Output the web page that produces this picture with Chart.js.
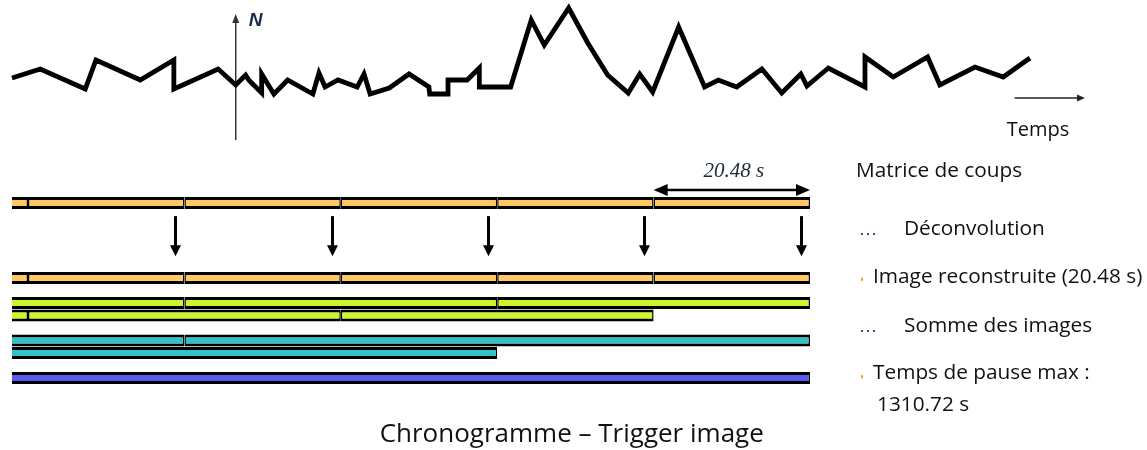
<!DOCTYPE html>
<html>
<head>
<meta charset="utf-8">
<script src="https://cdn.jsdelivr.net/npm/chart.js@4.4.0/dist/chart.umd.min.js"></script>
<style>
  body { margin: 0; background: #fff; }
  #wrap { width: 1147px; height: 450px; }
</style>
</head>
<body>
<div id="wrap"><canvas id="chrono" width="1147" height="450"></canvas></div>
<script>
// signal N en fonction du temps (s)
const signalT = [-2.1, 1.6, 7.5, 8.9, 14.7, 19.1, 19.1, 24.9, 27.2, 28.5, 28.9, 30.6, 30.6, 32.2, 34.0,
  37.3, 38.1, 38.9, 40.6, 43.1, 44.0, 44.8, 47.3, 49.9, 52.5, 52.6, 55.0, 55.0, 57.5, 59.1, 59.1,
  63.2, 65.9, 67.6, 70.8, 73.3, 75.9, 78.6, 80.1, 81.8, 85.2, 88.6, 90.4, 92.8, 96.1, 98.7, 101.2,
  102.0, 104.8, 109.6, 109.6, 113.3, 117.8, 119.4, 124.0, 127.7, 131.2];
const signalN = [62, 71, 51, 80, 60, 80, 51, 71, 55, 65, 60, 47, 66, 46, 60,
  46, 67, 53, 60, 53, 66, 46, 52, 66, 53, 46, 46, 60, 60, 72, 53,
  53, 120, 95, 132, 97, 65, 47, 66, 48, 113, 53, 60, 53, 71, 47, 66,
  54, 72, 53, 83, 63, 83, 55, 73, 63, 82];

// triggers image (s)
const triggers = [0, 20.48, 40.96, 61.44, 81.92, 102.4];
const imageLength = 20.48;
const windowStart = -2.1;

// segments [debut, fin] de chaque ligne
const matriceSegs = [[-2.1, 0], [0, 20.48], [20.48, 40.96], [40.96, 61.44], [61.44, 81.92], [81.92, 102.4]];
const reconSegs = [[-2.1, 0], [0, 20.48], [20.48, 40.96], [40.96, 61.44], [61.44, 81.92], [81.92, 102.4]];
const somme2Haut = [[-2.1, 20.48], [20.48, 61.44], [61.44, 102.4]];
const somme2Bas = [[-2.1, 0], [0, 40.96], [40.96, 81.92]];
const somme4Haut = [[-2.1, 20.48], [20.48, 102.4]];
const somme4Bas = [[-2.1, 61.44]];
const pauseSegs = [[-2.1, 102.4]];

// ordre des lignes du chronogramme
const rowLevel = [0, 6, 8, 9, 11, 12, 14];

const sideLabels = ['Matrice de coups', 'Déconvolution', 'Image reconstruite (20.48 s)',
  'Somme des images', 'Temps de pause max :', '1310.72 s'];
const titleText = 'Chronogramme \u2013 Trigger image';

const orange = '#ffc864', vert = '#ccf52e', cyan = '#30c2c4', bleu = '#5a5af0';

function barSet(label, segs, level, color) {
  return {
    type: 'bar',
    label: label,
    data: segs.map(s => ({ x: s, y: level })),
    indexAxis: 'y',
    xAxisID: 'x',
    yAxisID: 'yRows',
    grouped: false,
    barThickness: 12,
    backgroundColor: color,
    borderColor: '#000',
    borderWidth: c => ({
      top: 3, bottom: 3,
      left: c.raw && c.raw.x[0] <= windowStart ? 0 : 1.5,
      right: 1.5
    }),
    borderSkipped: false,
    inflateAmount: 0,
    order: 2
  };
}

function arrowHead(ctx, x, y, dx, dy, len, half) {
  // pointe en (x,y), direction (dx,dy)
  ctx.beginPath();
  ctx.moveTo(x, y);
  ctx.lineTo(x - dx * len - dy * half, y - dy * len + dx * half);
  ctx.lineTo(x - dx * len + dy * half, y - dy * len - dx * half);
  ctx.closePath();
  ctx.fill();
}

const overlay = {
  id: 'overlay',
  beforeDatasetsDraw(chart) {
    const ctx = chart.ctx;
    const xs = chart.scales.x, ys = chart.scales.y;
    const ax = xs.getPixelForValue(27.2);
    const top = ys.getPixelForValue(126);
    ctx.save();
    ctx.strokeStyle = '#333';
    ctx.fillStyle = '#333';
    ctx.lineWidth = 1.5;
    ctx.beginPath();
    ctx.moveTo(ax, ys.getPixelForValue(0));
    ctx.lineTo(ax, top + 6);
    ctx.stroke();
    arrowHead(ctx, ax, top, 0, -1, 9, 3.5);
    ctx.restore();
  },
  afterDatasetsDraw(chart) {
    const ctx = chart.ctx;
    const xs = chart.scales.x, ys = chart.scales.y, rs = chart.scales.yRows;
    ctx.save();

    // N
    ctx.fillStyle = '#1b2b4b';
    ctx.font = 'italic bold 19px "Liberation Sans"';
    ctx.textBaseline = 'middle';
    ctx.fillText('N', xs.getPixelForValue(27.2) + 13, ys.getPixelForValue(119));

    // axe Temps
    const ty = ys.getPixelForValue(42);
    const t0 = xs.getPixelForValue(129.2), t1 = xs.getPixelForValue(138.4);
    ctx.strokeStyle = '#222';
    ctx.fillStyle = '#222';
    ctx.lineWidth = 1.3;
    ctx.beginPath();
    ctx.moveTo(t0, ty);
    ctx.lineTo(t1 - 6, ty);
    ctx.stroke();
    arrowHead(ctx, t1, ty, 1, 0, 8, 3.5);
    ctx.fillStyle = '#111';
    ctx.font = '20px "Open Sans"';
    ctx.fillText('Temps', t0 - 8, ys.getPixelForValue(10));

    // fleches de deconvolution
    ctx.fillStyle = '#000';
    ctx.strokeStyle = '#000';
    const aTop = rs.getPixelForValue(1.05), aTip = rs.getPixelForValue(4.25);
    triggers.slice(1).forEach(b => {
      const x = Math.round(xs.getPixelForValue(b - 1.2)) + 0.5;
      ctx.lineWidth = 3;
      ctx.beginPath();
      ctx.moveTo(x, aTop);
      ctx.lineTo(x, aTip - 9);
      ctx.stroke();
      arrowHead(ctx, x, aTip, 0, 1, 11, 5.5);
    });

    // double fleche 20.48 s
    const last = triggers[triggers.length - 1];
    const d0 = xs.getPixelForValue(last - imageLength), d1 = xs.getPixelForValue(last);
    const dy = rs.getPixelForValue(-1.05);
    ctx.lineWidth = 2.5;
    ctx.beginPath();
    ctx.moveTo(d0 + 10, dy);
    ctx.lineTo(d1 - 10, dy);
    ctx.stroke();
    arrowHead(ctx, d0, dy, -1, 0, 14, 6);
    arrowHead(ctx, d1, dy, 1, 0, 14, 6);
    ctx.fillStyle = '#1f2a36';
    ctx.font = 'italic 21px "Liberation Serif"';
    ctx.textAlign = 'center';
    ctx.fillText(imageLength.toFixed(2) + ' s', (d0 + d1) / 2 + 2, rs.getPixelForValue(-2.5));

    // legendes a droite
    const lx = xs.getPixelForValue(last) + 46;
    ctx.textAlign = 'left';
    ctx.fillStyle = '#111';
    ctx.font = '20.8px "Open Sans"';
    ctx.fillText(sideLabels[0], lx, rs.getPixelForValue(-2.56));
    ctx.fillText(sideLabels[1], lx + 48, rs.getPixelForValue(2.08));
    ctx.fillText(sideLabels[2], lx + 17, rs.getPixelForValue(5.92));
    ctx.fillText(sideLabels[3], lx + 48, rs.getPixelForValue(9.84));
    ctx.fillText(sideLabels[4], lx + 17, rs.getPixelForValue(13.6));
    ctx.fillText(sideLabels[5], lx + 21, rs.getPixelForValue(16.16));

    // petites puces
    ctx.fillStyle = '#2f5597';
    [2.48, 10.24].forEach(l => {
      const y = rs.getPixelForValue(l);
      for (let k = 0; k < 3; k++) ctx.fillRect(lx + 5 + k * 6, y - 1, 2, 2);
    });
    ctx.fillStyle = '#f0a030';
    [6.1, 13.9].forEach(l => {
      ctx.fillRect(lx + 5, rs.getPixelForValue(l) - 1.5, 2, 3);
    });

    // titre
    ctx.fillStyle = '#111';
    ctx.font = '26px "Open Sans"';
    ctx.textAlign = 'center';
    ctx.fillText(titleText, xs.getPixelForValue(71.2), rs.getPixelForValue(18.55));
    ctx.restore();
  }
};

const pxPerSec = 782 / 102.4;
const xMin = -28 / pxPerSec;

const chrono = new Chart(document.getElementById('chrono'), {
  type: 'scatter',
  data: {
    datasets: [
      {
        type: 'line',
        label: 'N',
        data: signalT.map((t, i) => ({ x: t, y: signalN[i] })),
        xAxisID: 'x',
        yAxisID: 'y',
        borderColor: '#000',
        borderWidth: 4.8,
        borderJoinStyle: 'miter',
        pointRadius: 0,
        tension: 0,
        fill: false,
        order: 1
      },
      barSet('Matrice de coups', matriceSegs, rowLevel[0], orange),
      barSet('Image reconstruite', reconSegs, rowLevel[1], orange),
      barSet('Somme 2 haut', somme2Haut, rowLevel[2], vert),
      barSet('Somme 2 bas', somme2Bas, rowLevel[3], vert),
      barSet('Somme 4 haut', somme4Haut, rowLevel[4], cyan),
      barSet('Somme 4 bas', somme4Bas, rowLevel[5], cyan),
      barSet('Temps de pause max', pauseSegs, rowLevel[6], bleu)
    ]
  },
  options: {
    responsive: false,
    animation: false,
    events: [],
    layout: { padding: 0, autoPadding: false },
    plugins: { legend: { display: false }, tooltip: { enabled: false } },
    scales: {
      x: { type: 'linear', display: false, bounds: 'data', offset: false,
           min: xMin, max: xMin + 1147 / pxPerSec },
      y: { type: 'linear', display: false, bounds: 'data', offset: false, min: -310, max: 140 },
      yRows: { type: 'linear', axis: 'y', display: false, reverse: true, bounds: 'data',
               offset: false, grid: { offset: false }, min: -16.24, max: 19.76 }
    }
  },
  plugins: [overlay]
});
</script>
</body>
</html>
